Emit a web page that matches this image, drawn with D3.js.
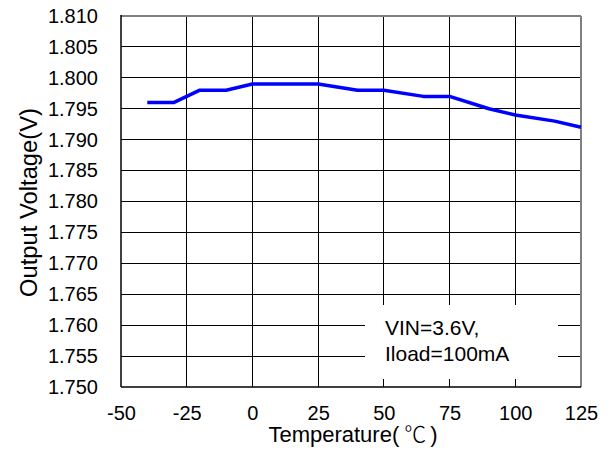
<!DOCTYPE html>
<html>
<head>
<style>
  body { margin: 0; background: #fff; }
  text { font-family: "Liberation Sans", Arial, sans-serif; fill: #000; }
</style>
</head>
<body>
<svg id="chart" width="610" height="457"></svg>
<script src="https://cdn.jsdelivr.net/npm/d3@7"></script>
<script>
// data
const temps = [-40, -30, -20, -10, 0, 25, 40, 50, 65, 75, 90, 100, 115, 125];
const vout = [1.796, 1.796, 1.798, 1.798, 1.799, 1.799, 1.798, 1.798, 1.797, 1.797, 1.795, 1.794, 1.793, 1.792];
const xTicks = [-50, -25, 0, 25, 50, 75, 100, 125];
const yTicks = [1.750, 1.755, 1.760, 1.765, 1.770, 1.775, 1.780, 1.785, 1.790, 1.795, 1.800, 1.805, 1.810];
const noteLines = ["VIN=3.6V,", "Iload=100mA"];

const width = 610, height = 457;
const margin = {top: 16, right: 29, bottom: 70, left: 121};

const svg = d3.select("#chart");

const x = d3.scaleLinear().domain([-50, 125]).range([margin.left, width - margin.right]);
const y = d3.scaleLinear().domain([1.750, 1.810]).range([height - margin.bottom, margin.top]);

// grid
const grid = svg.append("g").attr("stroke", "#000").attr("stroke-width", 1).attr("shape-rendering", "crispEdges");
grid.selectAll("line.v")
    .data(xTicks.slice(1, -1))
    .join("line")
    .attr("x1", d => x(d)).attr("x2", d => x(d))
    .attr("y1", y(1.810)).attr("y2", y(1.750));
grid.selectAll("line.h")
    .data(yTicks.slice(1, -1))
    .join("line")
    .attr("x1", x(-50)).attr("x2", x(125))
    .attr("y1", d => y(d)).attr("y2", d => y(d));

// white note box hides the grid under the text
svg.append("rect")
    .attr("x", 365).attr("y", 305)
    .attr("width", 193).attr("height", 74)
    .attr("fill", "#fff");

// frame
svg.append("line")
    .attr("x1", x(-50)).attr("x2", x(125)).attr("y1", y(1.810)).attr("y2", y(1.810))
    .attr("stroke", "#808080").attr("stroke-width", 2);
svg.append("line")
    .attr("x1", x(125)).attr("x2", x(125)).attr("y1", y(1.810)).attr("y2", y(1.750))
    .attr("stroke", "#808080").attr("stroke-width", 2);
svg.append("line")
    .attr("x1", x(-50)).attr("x2", x(125)).attr("y1", y(1.750)).attr("y2", y(1.750))
    .attr("stroke", "#000").attr("stroke-width", 1.5);
svg.append("line")
    .attr("x1", x(-50)).attr("x2", x(-50)).attr("y1", y(1.810) - 1).attr("y2", y(1.750))
    .attr("stroke", "#000").attr("stroke-width", 1.5);

// axes labels
const xAxis = d3.axisBottom(x).tickValues(xTicks).tickSize(0).tickPadding(19).tickFormat(d => String(d));
const gx = svg.append("g").attr("transform", `translate(0,${y(1.750)})`).call(xAxis);
gx.select(".domain").remove();
gx.selectAll("text").attr("font-size", 20).attr("font-family", "Liberation Sans, Arial, sans-serif").attr("fill", "#000");

const yAxis = d3.axisLeft(y).tickValues(yTicks).tickSize(0).tickPadding(23).tickFormat(d3.format(".3f"));
const gy = svg.append("g").attr("transform", `translate(${x(-50)},0)`).call(yAxis);
gy.select(".domain").remove();
gy.selectAll("text").attr("font-size", 20).attr("font-family", "Liberation Sans, Arial, sans-serif").attr("fill", "#000");

// curve
const line = d3.line().x((d, i) => x(temps[i])).y(d => y(d));
svg.append("path")
    .datum(vout)
    .attr("d", line)
    .attr("fill", "none")
    .attr("stroke", "#0000ff")
    .attr("stroke-width", 3.5)
    .attr("stroke-linejoin", "round");

// note
svg.append("g").selectAll("text")
    .data(noteLines)
    .join("text")
    .attr("x", 385)
    .attr("y", (d, i) => 335 + i * 26)
    .attr("font-size", 21)
    .text(d => d);

// titles
const xt = svg.append("text")
    .attr("x", (x(-50) + x(125)) / 2 + 2)
    .attr("y", 442)
    .attr("text-anchor", "middle")
    .attr("font-size", 22);
xt.append("tspan").text("Temperature(");
xt.append("tspan").attr("dx", 5)
    .attr("font-family", "Noto Sans CJK SC").attr("font-weight", 300)
    .text("℃");
xt.append("tspan").attr("dx", 4).text(")");

const yt = svg.append("text")
    .attr("transform", `translate(37,${(y(1.750) + y(1.810)) / 2 + 1}) rotate(-90)`)
    .attr("text-anchor", "middle")
    .attr("font-size", 22)
    .text("Output Voltage(V)");
// size the label to the length seen in the picture
const len = yt.node().getComputedTextLength();
yt.attr("font-size", 22 * 189 / len);
</script>
</body>
</html>
